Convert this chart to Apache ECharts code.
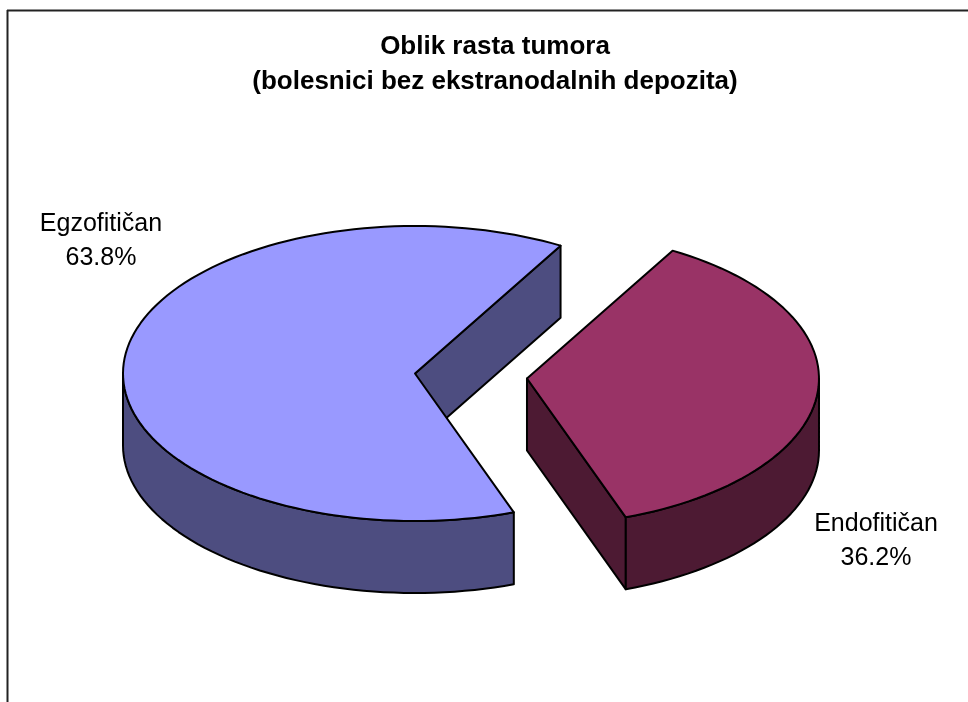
<!DOCTYPE html>
<html>
<head>
<meta charset="utf-8">
<script src="https://cdn.jsdelivr.net/npm/echarts@6/dist/echarts.min.js"></script>
<style>
  html, body { margin: 0; padding: 0; background: #fff; }
  #main { width: 968px; height: 702px; }
</style>
</head>
<body>
<div id="main"></div>
<script>
// data
var categories = ['Egzofitičan', 'Endofitičan'];
var shares = [63.8, 36.2];
var titleLines = ['Oblik rasta tumora', '(bolesnici bez ekstranodalnih depozita)'];

// look
var topColors = ['#9999FF', '#993366'];
var sideColors = ['#4D4D80', '#4D1A33'];
var explodeBy = [0, 0.385];
var labelAt = [[101, 241], [876, 541]];
var fontFam = '"Liberation Sans", Arial, sans-serif';

// 3d pie layout (parallel projection of a flat cylinder)
var cx = 415, cy = 373.5, rx = 292, ry = 147.5, depth = 72;
var startDeg = 60.1;

var total = shares.reduce(function (a, b) { return a + b; }, 0);
var starts = [], acc = 0;
shares.forEach(function (v) { starts.push(startDeg + acc / total * 360); acc += v; });

function pt(ox, oy, deg, dz) {
  var t = deg * Math.PI / 180;
  return [ox + rx * Math.cos(t), oy - ry * Math.sin(t) + (dz || 0)];
}

function arcPts(ox, oy, a0, a1, dz) {
  var out = [], n = Math.max(2, Math.ceil(Math.abs(a1 - a0) / 2));
  for (var i = 0; i <= n; i++) out.push(pt(ox, oy, a0 + (a1 - a0) * i / n, dz));
  return out;
}

var edge = { stroke: '#000', lineWidth: 2, lineJoin: 'round' };

function poly(points, fill) {
  return { type: 'polygon', shape: { points: points }, style: Object.assign({ fill: fill }, edge) };
}

function renderItem(params, api) {
  var i = params.dataIndex;
  var v = api.value(0);
  var a0 = starts[i], a1 = a0 + v / total * 360;
  var mid = (a0 + a1) / 2 * Math.PI / 180;
  var ox = cx + explodeBy[i] * rx * Math.cos(mid);
  var oy = cy - explodeBy[i] * ry * Math.sin(mid);
  var kids = [];

  // radial walls, only those turned towards the viewer
  [[a0, -90], [a1, 90]].forEach(function (w) {
    var n = (w[0] + w[1]) * Math.PI / 180;
    if (Math.sin(n) >= 0) return;
    var p = pt(ox, oy, w[0]), q = pt(ox, oy, w[0], depth);
    kids.push(poly([[ox, oy], p, q, [ox, oy + depth]], sideColors[i]));
  });

  // front part of the curved wall
  [-360, 0, 360].forEach(function (k) {
    var b0 = Math.max(a0, 180 + k), b1 = Math.min(a1, 360 + k);
    if (b1 > b0) {
      var topArc = arcPts(ox, oy, b0, b1, 0);
      var botArc = arcPts(ox, oy, b1, b0, depth);
      kids.push(poly(topArc.concat(botArc), sideColors[i]));
    }
  });

  // top face
  kids.push(poly([[ox, oy]].concat(arcPts(ox, oy, a0, a1, 0)), topColors[i]));

  // label
  kids.push({
    type: 'text',
    style: {
      text: categories[i] + '\n' + v.toFixed(1) + '%',
      x: labelAt[i][0], y: labelAt[i][1],
      align: 'center', verticalAlign: 'middle',
      font: '25px ' + fontFam,
      lineHeight: 34, fill: '#000'
    }
  });

  return { type: 'group', children: kids };
}

var chart = echarts.init(document.getElementById('main'), null, { renderer: 'canvas' });
var option = {
  animation: false,
  backgroundColor: '#fff',
  graphic: [
    { type: 'line', shape: { x1: 7, y1: 10.5, x2: 968, y2: 10.5 }, style: { stroke: '#222', lineWidth: 2 } },
    { type: 'line', shape: { x1: 7.5, y1: 10, x2: 7.5, y2: 702 }, style: { stroke: '#222', lineWidth: 2 } },
    {
      type: 'text', x: 495, y: 64,
      style: {
        text: titleLines.join('\n'),
        align: 'center', verticalAlign: 'middle',
        font: 'bold 26px ' + fontFam,
        lineHeight: 35, fill: '#000'
      }
    }
  ],
  series: [{
    type: 'custom',
    coordinateSystem: 'none',
    renderItem: renderItem,
    data: shares.map(function (v, i) { return { name: categories[i], value: [v] }; })
  }]
};
chart.setOption(option);
</script>
</body>
</html>
